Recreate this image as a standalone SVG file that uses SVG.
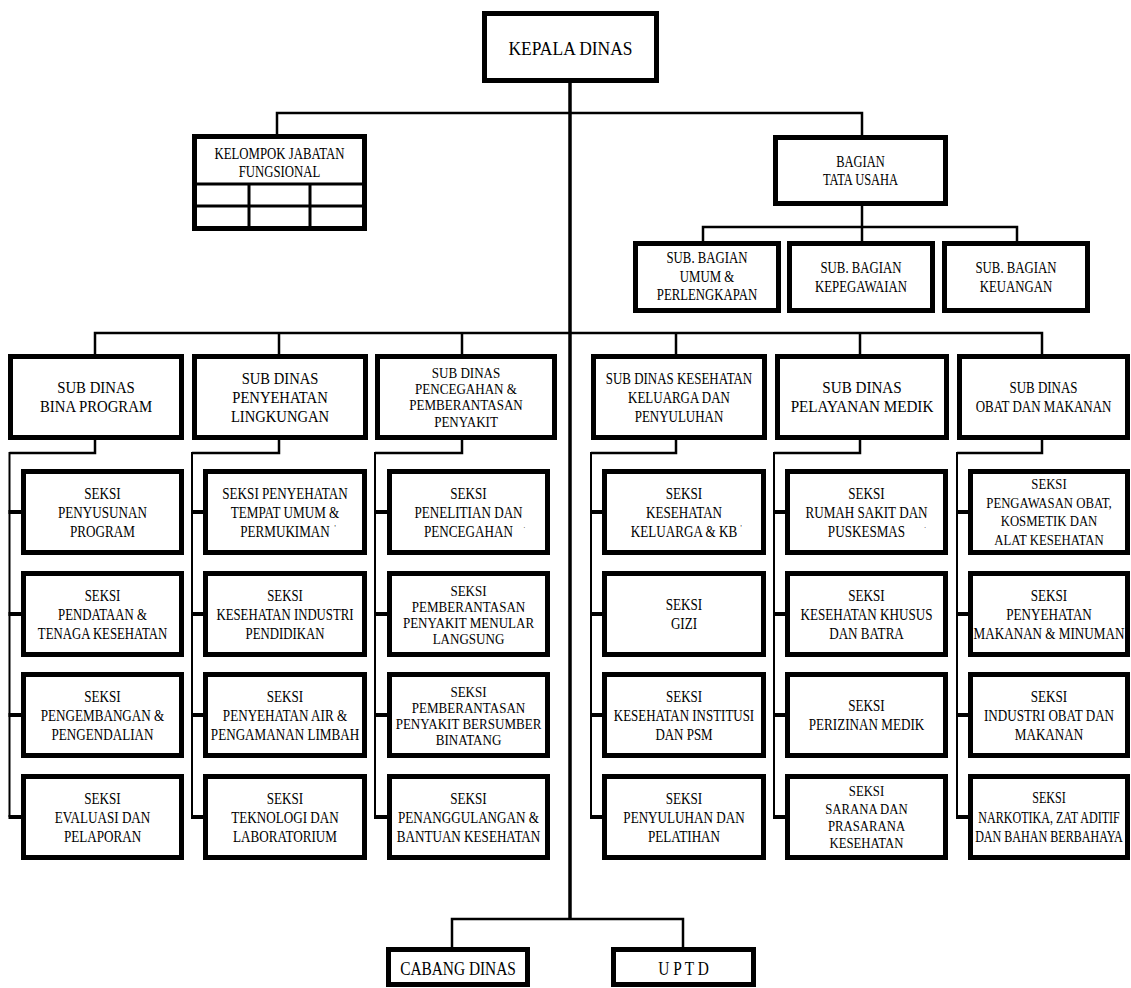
<svg xmlns="http://www.w3.org/2000/svg" width="1131" height="988" viewBox="0 0 1131 988">
<style>
.box{fill:#fff;stroke:#000;stroke-width:5}
.in{stroke:#000;stroke-width:3;fill:none}
.ln{stroke:#000;stroke-width:2.5;fill:none}
.main{stroke:#000;stroke-width:3.5;fill:none}
.col{stroke:#000;stroke-width:2;fill:none}
.stub{stroke:#000;stroke-width:4;fill:none}
.t{font-family:"Liberation Serif","Times New Roman",serif;fill:#000;text-anchor:middle}
.m{font-size:8px}
</style>
<rect width="1131" height="988" fill="#fff"/>

<g id="connectors">
  <path class="main" d="M570 83 V919"/>
  <path class="ln" d="M277 134 V113 H862 V135"/>
  <path class="ln" d="M862 206 V241 M703 241 V227 H1017 V241"/>
  <path class="ln" d="M95 354 V333 H1042 V354 M279 333 V354 M462 333 V354 M676 333 V354 M860 333 V354"/>
  <path class="ln" d="M95 440 V453 H9.5"/>
  <path class="ln" d="M279 440 V453 H192"/>
  <path class="ln" d="M462 440 V453 H375"/>
  <path class="ln" d="M676 440 V453 H591"/>
  <path class="ln" d="M860 440 V453 H774"/>
  <path class="ln" d="M1042 440 V453 H957"/>
  <path class="col" d="M9.5 452 V817 M192 452 V817 M375 452 V817 M591 452 V817 M774 452 V817 M957 452 V817"/>
  <path class="stub" d="M8.5 512 H21 M8.5 614 H21 M8.5 715 H21 M8.5 817 H21"/>
  <path class="stub" d="M191 512 H203 M191 614 H203 M191 715 H203 M191 817 H203"/>
  <path class="stub" d="M374 512 H387 M374 614 H387 M374 715 H387 M374 817 H387"/>
  <path class="stub" d="M590 512 H602 M590 614 H602 M590 715 H602 M590 817 H602"/>
  <path class="stub" d="M773 512 H785 M773 614 H785 M773 715 H785 M773 817 H785"/>
  <path class="stub" d="M956 512 H968 M956 614 H968 M956 715 H968 M956 817 H968"/>
  <path class="ln" d="M452 947 V919 H683 V947"/>
</g>

<g id="kepala-dinas">
  <rect class="box" x="484.5" y="13.5" width="172" height="67"/>
  <text class="t" font-size="19" transform="translate(570.5 0) scale(0.92 1)"><tspan x="0" y="55">KEPALA DINAS</tspan></text>
</g>

<g id="kelompok-jabatan-fungsional">
  <rect class="box" x="194.5" y="136.5" width="170" height="92"/>
  <path class="in" d="M192 184 H367 M192 206 H367 M249 184 V231 M310 184 V231"/>
  <text class="t" font-size="16" transform="translate(279.5 0) scale(0.8 1)"><tspan x="0" y="159.5">KELOMPOK JABATAN</tspan><tspan x="0" y="177">FUNGSIONAL</tspan></text>
</g>

<g id="bagian-tata-usaha">
  <rect class="box" x="775.5" y="137.5" width="170" height="66"/>
  <text class="t" font-size="16" transform="translate(860.5 0) scale(0.78 1)"><tspan x="0" y="167">BAGIAN</tspan><tspan x="0" y="185">TATA USAHA</tspan></text>
</g>

<g id="sub-bagian-umum">
  <rect class="box" x="635.5" y="243.5" width="143" height="67"/>
  <text class="t" font-size="16" transform="translate(707 0) scale(0.8 1)"><tspan x="0" y="263.5">SUB. BAGIAN</tspan><tspan x="0" y="282">UMUM &amp;</tspan><tspan x="0" y="300">PERLENGKAPAN</tspan></text>
</g>
<g id="sub-bagian-kepegawaian">
  <rect class="box" x="789.5" y="243.5" width="143" height="67"/>
  <text class="t" font-size="16" transform="translate(861 0) scale(0.8 1)"><tspan x="0" y="273.5">SUB. BAGIAN</tspan><tspan x="0" y="292">KEPEGAWAIAN</tspan></text>
</g>
<g id="sub-bagian-keuangan">
  <rect class="box" x="944.5" y="243.5" width="143" height="67"/>
  <text class="t" font-size="16" transform="translate(1016 0) scale(0.8 1)"><tspan x="0" y="273.5">SUB. BAGIAN</tspan><tspan x="0" y="292">KEUANGAN</tspan></text>
</g>

<g id="sub-dinas-bina-program">
  <rect class="box" x="10.5" y="356.5" width="171" height="81"/>
  <text class="t" font-size="17" transform="translate(96 0) scale(0.87 1)"><tspan x="0" y="393.5">SUB DINAS</tspan><tspan x="0" y="412.5">BINA PROGRAM</tspan></text>
</g>
<g id="sub-dinas-penyehatan-lingkungan">
  <rect class="box" x="194.5" y="356.5" width="171" height="81"/>
  <text class="t" font-size="17" transform="translate(280 0) scale(0.86 1)"><tspan x="0" y="384">SUB DINAS</tspan><tspan x="0" y="403">PENYEHATAN</tspan><tspan x="0" y="422">LINGKUNGAN</tspan></text>
</g>
<g id="sub-dinas-p2p">
  <rect class="box" x="377.5" y="356.5" width="177" height="81"/>
  <text class="t" font-size="15" transform="translate(466 0) scale(0.87 1)"><tspan x="0" y="378">SUB DINAS</tspan><tspan x="0" y="394.3">PENCEGAHAN &amp;</tspan><tspan x="0" y="410.5">PEMBERANTASAN</tspan><tspan x="0" y="426.7">PENYAKIT</tspan></text>
</g>
<g id="sub-dinas-kesga">
  <rect class="box" x="593.5" y="356.5" width="171" height="81"/>
  <text class="t" font-size="16" transform="translate(679 0) scale(0.81 1)"><tspan x="0" y="384">SUB DINAS KESEHATAN</tspan><tspan x="0" y="403">KELUARGA DAN</tspan><tspan x="0" y="422">PENYULUHAN</tspan></text>
</g>
<g id="sub-dinas-pelayanan-medik">
  <rect class="box" x="777.5" y="356.5" width="169" height="81"/>
  <text class="t" font-size="17" transform="translate(862 0) scale(0.89 1)"><tspan x="0" y="393.5">SUB DINAS</tspan><tspan x="0" y="412.5">PELAYANAN MEDIK</tspan></text>
</g>
<g id="sub-dinas-obat-makanan">
  <rect class="box" x="959.5" y="356.5" width="168" height="81"/>
  <text class="t" font-size="16" transform="translate(1043.5 0) scale(0.81 1)"><tspan x="0" y="393.5">SUB DINAS</tspan><tspan x="0" y="412.5">OBAT DAN MAKANAN</tspan></text>
</g>

<!-- column 1 -->
<g id="seksi-penyusunan-program">
  <rect class="box" x="23.5" y="471.5" width="158" height="81"/>
  <text class="t" font-size="16" transform="translate(102.5 0) scale(0.82 1)"><tspan x="0" y="499">SEKSI</tspan><tspan x="0" y="518">PENYUSUNAN</tspan><tspan x="0" y="537">PROGRAM</tspan></text>
</g>
<g id="seksi-pendataan">
  <rect class="box" x="23.5" y="573.5" width="158" height="81"/>
  <text class="t" font-size="16" transform="translate(102.5 0) scale(0.8 1)"><tspan x="0" y="601">SEKSI</tspan><tspan x="0" y="620">PENDATAAN &amp;</tspan><tspan x="0" y="639">TENAGA KESEHATAN</tspan></text>
</g>
<g id="seksi-pengembangan">
  <rect class="box" x="23.5" y="674.5" width="158" height="81"/>
  <text class="t" font-size="16" transform="translate(102.5 0) scale(0.82 1)"><tspan x="0" y="702">SEKSI</tspan><tspan x="0" y="721">PENGEMBANGAN &amp;</tspan><tspan x="0" y="740">PENGENDALIAN</tspan></text>
</g>
<g id="seksi-evaluasi">
  <rect class="box" x="23.5" y="776.5" width="158" height="81"/>
  <text class="t" font-size="16" transform="translate(102.5 0) scale(0.82 1)"><tspan x="0" y="804">SEKSI</tspan><tspan x="0" y="823">EVALUASI DAN</tspan><tspan x="0" y="842">PELAPORAN</tspan></text>
</g>

<!-- column 2 -->
<g id="seksi-penyehatan-tempat-umum">
  <rect class="box" x="205.5" y="471.5" width="159" height="81"/>
  <text class="t" font-size="16" transform="translate(285 0) scale(0.82 1)"><tspan x="0" y="499">SEKSI PENYEHATAN</tspan><tspan x="0" y="518">TEMPAT  UMUM &amp;</tspan><tspan x="0" y="537">PERMUKIMAN</tspan><tspan class="m" x="61" y="531">'</tspan></text>
</g>
<g id="seksi-kesehatan-industri">
  <rect class="box" x="205.5" y="573.5" width="159" height="81"/>
  <text class="t" font-size="16" transform="translate(285 0) scale(0.8 1)"><tspan x="0" y="601">SEKSI</tspan><tspan x="0" y="620">KESEHATAN INDUSTRI</tspan><tspan x="0" y="639">PENDIDIKAN</tspan></text>
</g>
<g id="seksi-penyehatan-air">
  <rect class="box" x="205.5" y="674.5" width="159" height="81"/>
  <text class="t" font-size="16" transform="translate(285 0) scale(0.82 1)"><tspan x="0" y="702">SEKSI</tspan><tspan x="0" y="721">PENYEHATAN AIR  &amp;</tspan><tspan x="0" y="740">PENGAMANAN LIMBAH</tspan></text>
</g>
<g id="seksi-teknologi">
  <rect class="box" x="205.5" y="776.5" width="159" height="81"/>
  <text class="t" font-size="16" transform="translate(285 0) scale(0.82 1)"><tspan x="0" y="804">SEKSI</tspan><tspan x="0" y="823">TEKNOLOGI DAN</tspan><tspan x="0" y="842">LABORATORIUM</tspan></text>
</g>

<!-- column 3 -->
<g id="seksi-penelitian">
  <rect class="box" x="389.5" y="471.5" width="158" height="81"/>
  <text class="t" font-size="16" transform="translate(468.5 0) scale(0.82 1)"><tspan x="0" y="499">SEKSI</tspan><tspan x="0" y="518">PENELITIAN DAN</tspan><tspan x="0" y="537">PENCEGAHAN</tspan><tspan class="m" x="68" y="530">·</tspan></text>
</g>
<g id="seksi-p2-menular-langsung">
  <rect class="box" x="389.5" y="573.5" width="158" height="81"/>
  <text class="t" font-size="15" transform="translate(468.5 0) scale(0.87 1)"><tspan x="0" y="596">SEKSI</tspan><tspan x="0" y="612">PEMBERANTASAN</tspan><tspan x="0" y="628">PENYAKIT MENULAR</tspan><tspan x="0" y="644">LANGSUNG</tspan></text>
</g>
<g id="seksi-p2-bersumber-binatang">
  <rect class="box" x="389.5" y="674.5" width="158" height="81"/>
  <text class="t" font-size="15" transform="translate(468.5 0) scale(0.87 1)"><tspan x="0" y="697">SEKSI</tspan><tspan x="0" y="713">PEMBERANTASAN</tspan><tspan x="0" y="729">PENYAKIT  BERSUMBER</tspan><tspan x="0" y="745">BINATANG</tspan></text>
</g>
<g id="seksi-penanggulangan">
  <rect class="box" x="389.5" y="776.5" width="158" height="81"/>
  <text class="t" font-size="16" transform="translate(468.5 0) scale(0.82 1)"><tspan x="0" y="804">SEKSI</tspan><tspan x="0" y="823">PENANGGULANGAN &amp;</tspan><tspan x="0" y="842">BANTUAN KESEHATAN</tspan></text>
</g>

<!-- column 4 -->
<g id="seksi-kesehatan-keluarga">
  <rect class="box" x="604.5" y="471.5" width="159" height="81"/>
  <text class="t" font-size="16" transform="translate(684 0) scale(0.82 1)"><tspan x="0" y="499">SEKSI</tspan><tspan x="0" y="518">KESEHATAN</tspan><tspan x="0" y="537">KELUARGA &amp; KB</tspan><tspan class="m" x="69.5" y="531">'</tspan></text>
</g>
<g id="seksi-gizi">
  <rect class="box" x="604.5" y="573.5" width="159" height="81"/>
  <text class="t" font-size="16" transform="translate(684 0) scale(0.82 1)"><tspan x="0" y="610.5">SEKSI</tspan><tspan x="0" y="629.5">GIZI</tspan></text>
</g>
<g id="seksi-kesehatan-institusi">
  <rect class="box" x="604.5" y="674.5" width="159" height="81"/>
  <text class="t" font-size="16" transform="translate(684 0) scale(0.81 1)"><tspan x="0" y="702">SEKSI</tspan><tspan x="0" y="721">KESEHATAN INSTITUSI</tspan><tspan x="0" y="740">DAN PSM</tspan></text>
</g>
<g id="seksi-penyuluhan">
  <rect class="box" x="604.5" y="776.5" width="159" height="81"/>
  <text class="t" font-size="16" transform="translate(684 0) scale(0.82 1)"><tspan x="0" y="804">SEKSI</tspan><tspan x="0" y="823">PENYULUHAN DAN</tspan><tspan x="0" y="842">PELATIHAN</tspan></text>
</g>

<!-- column 5 -->
<g id="seksi-rumah-sakit">
  <rect class="box" x="787.5" y="471.5" width="158" height="81"/>
  <text class="t" font-size="16" transform="translate(866.5 0) scale(0.82 1)"><tspan x="0" y="499">SEKSI</tspan><tspan x="0" y="518">RUMAH SAKIT DAN</tspan><tspan x="0" y="537">PUSKESMAS</tspan><tspan class="m" x="71.5" y="530">·</tspan></text>
</g>
<g id="seksi-kesehatan-khusus">
  <rect class="box" x="787.5" y="573.5" width="158" height="81"/>
  <text class="t" font-size="16" transform="translate(866.5 0) scale(0.82 1)"><tspan x="0" y="601">SEKSI</tspan><tspan x="0" y="620">KESEHATAN KHUSUS</tspan><tspan x="0" y="639">DAN BATRA</tspan></text>
</g>
<g id="seksi-perizinan">
  <rect class="box" x="787.5" y="674.5" width="158" height="81"/>
  <text class="t" font-size="16" transform="translate(866.5 0) scale(0.82 1)"><tspan x="0" y="711.5">SEKSI</tspan><tspan x="0" y="730.5">PERIZINAN MEDIK</tspan></text>
</g>
<g id="seksi-sarana">
  <rect class="box" x="787.5" y="776.5" width="158" height="81"/>
  <text class="t" font-size="15" transform="translate(866.5 0) scale(0.85 1)"><tspan x="0" y="796">SEKSI</tspan><tspan x="0" y="814">SARANA DAN</tspan><tspan x="0" y="831.5">PRASARANA</tspan><tspan x="0" y="848.5">KESEHATAN</tspan></text>
</g>

<!-- column 6 -->
<g id="seksi-pengawasan-obat">
  <rect class="box" x="970.5" y="471.5" width="157" height="81"/>
  <text class="t" font-size="15" transform="translate(1049 0) scale(0.85 1)"><tspan x="0" y="489">SEKSI</tspan><tspan x="0" y="507.7">PENGAWASAN OBAT,</tspan><tspan x="0" y="526.5">KOSMETIK DAN</tspan><tspan x="0" y="545">ALAT KESEHATAN</tspan></text>
</g>
<g id="seksi-penyehatan-makanan">
  <rect class="box" x="970.5" y="573.5" width="157" height="81"/>
  <text class="t" font-size="16" transform="translate(1049 0) scale(0.82 1)"><tspan x="0" y="601">SEKSI</tspan><tspan x="0" y="620">PENYEHATAN</tspan><tspan x="0" y="639">MAKANAN &amp; MINUMAN</tspan></text>
</g>
<g id="seksi-industri-obat">
  <rect class="box" x="970.5" y="674.5" width="157" height="81"/>
  <text class="t" font-size="16" transform="translate(1049 0) scale(0.82 1)"><tspan x="0" y="702">SEKSI</tspan><tspan x="0" y="721">INDUSTRI OBAT DAN</tspan><tspan x="0" y="740">MAKANAN</tspan></text>
</g>
<g id="seksi-narkotika">
  <rect class="box" x="970.5" y="776.5" width="157" height="81"/>
  <text class="t" font-size="16" transform="translate(1049 0) scale(0.755 1)"><tspan x="0" y="803">SEKSI</tspan><tspan x="0" y="823">NARKOTIKA, ZAT ADITIF</tspan><tspan x="0" y="842">DAN BAHAN BERBAHAYA</tspan></text>
</g>

<g id="cabang-dinas">
  <rect class="box" x="388.5" y="949.5" width="139" height="35"/>
  <text class="t" font-size="19" transform="translate(458 0) scale(0.81 1)"><tspan x="0" y="975">CABANG DINAS</tspan></text>
</g>
<g id="uptd">
  <rect class="box" x="613.5" y="949.5" width="140" height="35"/>
  <text class="t" font-size="19" transform="translate(683.5 0) scale(0.81 1)"><tspan x="0" y="975">U P T D</tspan></text>
</g>
</svg>
